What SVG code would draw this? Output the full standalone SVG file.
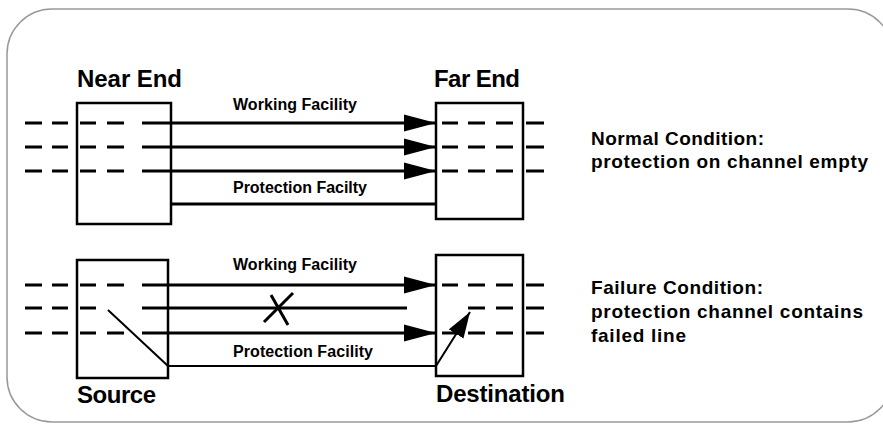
<svg xmlns="http://www.w3.org/2000/svg" width="883" height="424" viewBox="0 0 883 424">
<style>
.frame{fill:none;stroke:#999;stroke-width:1.5}
.box{fill:none;stroke:#000;stroke-width:2.5}
.dash{stroke:#000;stroke-width:3;fill:none}
.ln{stroke:#000;stroke-width:3;fill:none}
.thin{stroke:#000;stroke-width:2;fill:none}
.big{font-family:"Liberation Sans",Arial,sans-serif;font-weight:bold;font-size:24px;fill:#000}
.lbl{font-family:"Liberation Sans",Arial,sans-serif;font-weight:bold;font-size:16px;fill:#000}
.note{font-family:"Liberation Sans",Arial,sans-serif;font-weight:bold;font-size:19px;fill:#000}
</style>
<defs>
<marker id="ah" markerUnits="userSpaceOnUse" markerWidth="32" markerHeight="18" viewBox="0 0 30 16" refX="30" refY="8" orient="auto">
<path d="M0,0 L30,8 L0,16 Z" fill="#000"/>
</marker>
<marker id="ah2" markerUnits="userSpaceOnUse" markerWidth="26" markerHeight="18" viewBox="0 0 24 16" refX="24" refY="8" orient="auto">
<path d="M0,0 L24,8 L0,16 Z" fill="#000"/>
</marker>
</defs>
<rect class="frame" x="7" y="9" width="886" height="413" rx="45" ry="45"/>

<g id="near-end">
<rect class="box" x="77" y="103" width="94" height="121"/>
<text class="big" x="77" y="87" textLength="105">Near End</text>
</g>
<g id="far-end">
<rect class="box" x="436" y="103" width="87" height="116"/>
<text class="big" x="434" y="87" textLength="86">Far End</text>
</g>
<g id="source">
<rect class="box" x="77" y="260" width="91" height="118"/>
<text class="big" x="77" y="403" textLength="79">Source</text>
</g>
<g id="destination">
<rect class="box" x="436" y="255" width="87" height="121"/>
<text class="big" x="436" y="402" textLength="129">Destination</text>
</g>

<g id="dashes">
<path class="dash" d="M25,123H42M52,123H68M80,123H96M107,123H124M25,147H42M52,147H68M80,147H96M107,147H124M25,171H42M52,171H68M80,171H96M107,171H124"/>
<path class="dash" d="M442,123H458M468,123H485M496,123H513M526,123H544M442,147H458M468,147H485M496,147H513M526,147H544M442,171H458M468,171H485M496,171H513M526,171H544"/>
<path class="dash" d="M25,285H42M52,285H68M80,285H96M107,285H124M25,308H42M52,308H68M80,308H96M25,333H42M52,333H68M80,333H96M107,333H124"/>
<path class="dash" d="M442,285H458M468,285H485M496,285H513M526,285H544M468,308H485M496,308H513M526,308H544M442,333H458M468,333H485M496,333H513M526,333H544"/>
</g>

<g id="connectors">
<line class="ln" x1="142" y1="123" x2="436" y2="123" marker-end="url(#ah)"/>
<line class="ln" x1="142" y1="147" x2="436" y2="147" marker-end="url(#ah)"/>
<line class="ln" x1="142" y1="171" x2="436" y2="171" marker-end="url(#ah)"/>
<line class="ln" x1="171" y1="204" x2="436" y2="204"/>
<line class="ln" x1="142" y1="285" x2="436" y2="285" marker-end="url(#ah)"/>
<line class="ln" x1="142" y1="308" x2="407" y2="308"/>
<line class="ln" x1="142" y1="333" x2="436" y2="333" marker-end="url(#ah)"/>
<polyline class="thin" points="108,310 168,366 436,366"/>
<line class="thin" x1="436" y1="366" x2="470" y2="312" marker-end="url(#ah2)"/>
<path class="ln" d="M293,293L264,322M271,295L288,325"/>
</g>

<g id="labels">
<text class="lbl" x="233" y="110" textLength="124">Working Facility</text>
<text class="lbl" x="233" y="193" textLength="134">Protection Facilty</text>
<text class="lbl" x="233" y="270" textLength="124">Working Facility</text>
<text class="lbl" x="233" y="357" textLength="140">Protection Facility</text>
<text class="note" x="591" y="145" textLength="173">Normal Condition:</text>
<text class="note" x="591" y="168" textLength="277">protection on channel empty</text>
<text class="note" x="591" y="294" textLength="172">Failure Condition:</text>
<text class="note" x="591" y="318" textLength="272">protection channel contains</text>
<text class="note" x="591" y="342" textLength="95">failed line</text>
</g>
</svg>
